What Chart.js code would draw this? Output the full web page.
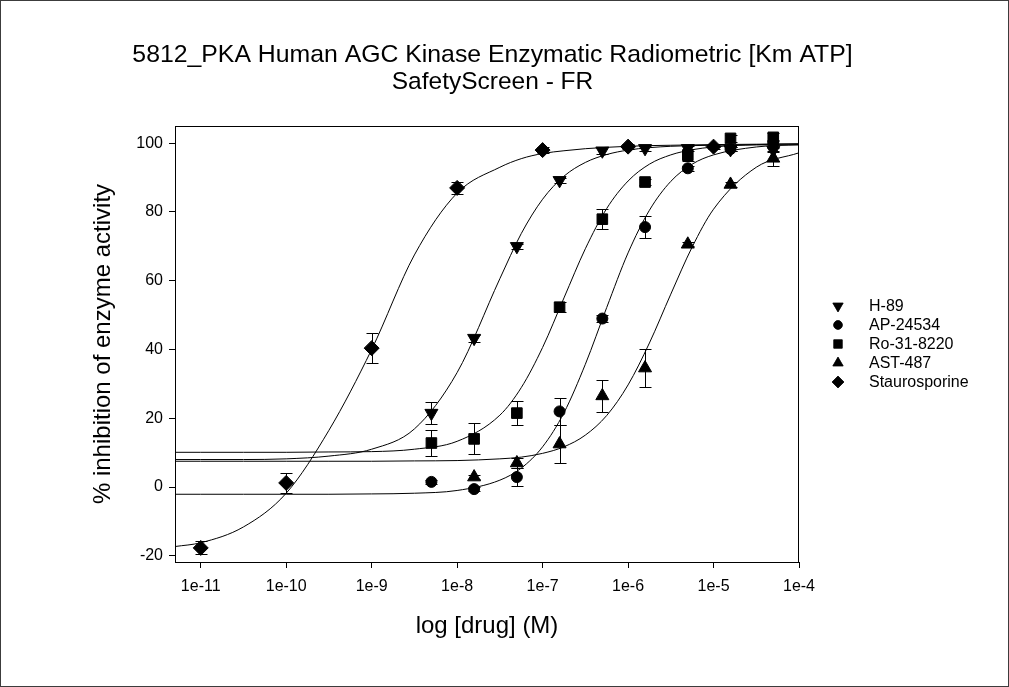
<!DOCTYPE html>
<html>
<head>
<meta charset="utf-8">
<script src="https://cdn.jsdelivr.net/npm/chart.js@4/dist/chart.umd.min.js"></script>
<style>
  html, body { margin: 0; padding: 0; background: #fff; }
  canvas { display: block; }
</style>
</head>
<body>
<canvas id="ic50-chart" width="1009" height="687"></canvas>
<script>
// concentrations (M) tested for the four compounds, and for staurosporine
const doseConc = [5e-9, 1.58e-8, 5e-8, 1.58e-7, 5e-7, 1.58e-6, 5e-6, 1.58e-5, 5e-5];
const stauroConc = [1e-11, 1e-10, 1e-9, 1e-8, 1e-7, 1e-6, 1e-5];

// % inhibition (mean) and error bar half-heights
const h89 = [21.5, 43.3, 70, 89.2, 97.8, 98.5, 98.5, 98.2, 98];
const h89Err = [3.2, 1, 0.8, 0.7, 1, 0.8, 0.8, 0.6, 0.6];
const ap24534 = [1.5, -0.6, 2.9, 22, 49, 75.6, 92.7, 98.3, 100];
const ap24534Err = [0.5, 0.5, 2.5, 3.9, 1, 3.1, 0.8, 0.6, 1];
const ro318220 = [12.8, 14, 21.5, 52.3, 77.9, 88.7, 96.5, 101.4, 101.7];
const ro318220Err = [3.7, 4.5, 3.4, 1.5, 3, 0.8, 1.8, 1, 1.2];
const ast487 = [null, 2.9, 7, 12.5, 26.5, 34.6, 70.6, 88, 95.6];
const ast487Err = [0, 0.6, 1.5, 5.4, 4.6, 5.5, 0.6, 0.8, 2.2];
const stauro = [-17.7, 1.2, 40.4, 87, 98, 99, 99];
const stauroErr = [1.9, 2.9, 4.4, 1.8, 0.8, 0.7, 0.7];

// fitted curves at these log10 concentrations
const curveLogX = [-11.3, -11, -10.5, -10, -9.5, -9, -8.5, -8, -7.5, -7.25, -7, -6.75, -6.5, -6.25, -6, -5.75, -5.5, -5.25, -5, -4.5, -4];
const h89Curve = [8.0, 8.0, 8.0, 8.2, 9.0, 11.0, 16.9, 33.3, 60.6, 73.7, 83.7, 90.4, 94.4, 96.7, 98.0, 98.7, 99.1, 99.3, 99.4, 99.5, 99.5];
const apCurve = [-2.1, -2.1, -2.1, -2.1, -2.1, -2.0, -1.8, -1.0, 2.0, 5.5, 11.7, 21.6, 35.7, 52.2, 68.1, 80.5, 88.9, 93.9, 96.6, 98.9, 99.6];
const roCurve = [10.1, 10.1, 10.1, 10.1, 10.2, 10.3, 11.0, 13.3, 20.9, 28.9, 40.6, 55.0, 69.3, 81.0, 89.0, 93.9, 96.6, 98.1, 98.9, 99.6, 99.8];
const astCurve = [7.5, 7.5, 7.5, 7.5, 7.5, 7.5, 7.6, 7.7, 8.2, 8.7, 9.8, 11.7, 15.1, 20.8, 29.7, 41.9, 56.1, 69.8, 80.8, 93.0, 97.2];
const stauroCurve = [-17.3, -16.2, -11.6, -1.8, 16.5, 40.0, 67.5, 85.5, 93.0, 95.5, 97.0, 97.8, 98.4, 98.8, 99.1, 99.3, 99.4, 99.5, 99.6, 99.7, 99.8];

// axis ticks
const xTickValues = [1e-11, 1e-10, 1e-9, 1e-8, 1e-7, 1e-6, 1e-5, 1e-4];
const xTickLabels = ['1e-11', '1e-10', '1e-9', '1e-8', '1e-7', '1e-6', '1e-5', '1e-4'];
const yTickValues = [-20, 0, 20, 40, 60, 80, 100];

const FONT = "Arial, 'Liberation Sans', sans-serif";

function toPoints(xs, ys) {
    return xs.map((x, i) => ({ x: x, y: ys[i] })).filter(p => p.y !== null);
}

function pointSet(label, xs, ys, errs, style, radius, rotation) {
    return {
        label: label,
        data: toPoints(xs, ys),
        errors: xs.map((x, i) => ({ x: x, y: ys[i], e: errs[i] })).filter(p => p.y !== null),
        pointStyle: style,
        pointRadius: radius,
        pointRotation: rotation || 0,
        pointBackgroundColor: '#000',
        pointBorderColor: '#000',
        pointBorderWidth: 1,
        showLine: false,
        legendRadius: radius * 0.8
    };
}

function curveSet(ys) {
    return {
        data: toPoints(curveLogX.map(v => Math.pow(10, v)), ys),
        showLine: true,
        pointRadius: 0,
        borderColor: '#000',
        borderWidth: 1,
        cubicInterpolationMode: 'monotone',
        fill: false,
        isCurve: true
    };
}

// vertical error bars with caps, drawn under the markers
const errorBars = {
    id: 'errorBars',
    beforeDatasetsDraw(chart) {
        const ctx = chart.ctx;
        const xs = chart.scales.x, ys = chart.scales.y;
        ctx.save();
        ctx.strokeStyle = '#000';
        ctx.lineWidth = 1;
        chart.data.datasets.forEach(ds => {
            if (!ds.errors) return;
            ds.errors.forEach(p => {
                if (!p.e) return;
                const px = Math.round(xs.getPixelForValue(p.x)) + 0.5;
                const top = Math.round(ys.getPixelForValue(p.y + p.e)) + 0.5;
                const bot = Math.round(ys.getPixelForValue(p.y - p.e)) + 0.5;
                ctx.beginPath();
                ctx.moveTo(px, top); ctx.lineTo(px, bot);
                ctx.moveTo(px - 6, top); ctx.lineTo(px + 6, top);
                ctx.moveTo(px - 6, bot); ctx.lineTo(px + 6, bot);
                ctx.stroke();
            });
        });
        ctx.restore();
    }
};

// plot box, outer frame and the symbol legend on the right
const decorations = {
    id: 'decorations',
    afterDraw(chart) {
        const ctx = chart.ctx;
        const a = chart.chartArea;
        ctx.save();
        ctx.strokeStyle = '#000';
        ctx.lineWidth = 1;
        ctx.strokeRect(Math.round(a.left) + 0.5, Math.round(a.top) + 0.5,
            Math.round(a.right - a.left) - 1, Math.round(a.bottom - a.top));
        ctx.strokeStyle = '#3c3c3c';
        ctx.strokeRect(0.5, 0.5, chart.width - 1, chart.height - 1);

        const items = chart.data.datasets.filter(ds => !ds.isCurve);
        ctx.font = '16px ' + FONT;
        ctx.textBaseline = 'middle';
        ctx.fillStyle = '#000';
        items.forEach((ds, i) => {
            const y = 306 + i * 19;
            Chart.helpers.drawPoint(ctx, {
                pointStyle: ds.pointStyle,
                rotation: ds.pointRotation,
                radius: ds.legendRadius,
                borderWidth: 1
            }, 838, y);
            ctx.fillStyle = '#000';
            ctx.fill();
            ctx.fillText(ds.label, 869, y + 1);
        });
        ctx.restore();
    }
};

const ctx = document.getElementById('ic50-chart').getContext('2d');

new Chart(ctx, {
    type: 'scatter',
    data: {
        datasets: [
            pointSet('H-89', doseConc, h89, h89Err, 'triangle', 7.5, 180),
            pointSet('AP-24534', doseConc, ap24534, ap24534Err, 'circle', 5.5),
            pointSet('Ro-31-8220', doseConc, ro318220, ro318220Err, 'rect', 7.5),
            pointSet('AST-487', doseConc, ast487, ast487Err, 'triangle', 7.5),
            pointSet('Staurosporine', stauroConc, stauro, stauroErr, 'rectRot', 7.5),
            curveSet(h89Curve),
            curveSet(apCurve),
            curveSet(roCurve),
            curveSet(astCurve),
            curveSet(stauroCurve)
        ]
    },
    options: {
        responsive: false,
        animation: false,
        devicePixelRatio: 1,
        layout: { padding: { left: 0, right: 24, top: 0, bottom: 0 } },
        plugins: {
            legend: { display: false },
            tooltip: { enabled: false },
            title: {
                display: true,
                text: '5812_PKA Human AGC Kinase Enzymatic Radiometric [Km ATP]',
                color: '#000',
                font: { family: FONT, size: 24.8, weight: 'normal', lineHeight: 1 },
                padding: { top: 42.6, bottom: 0 }
            },
            subtitle: {
                display: true,
                text: 'SafetyScreen - FR',
                color: '#000',
                font: { family: FONT, size: 24.5, weight: 'normal', lineHeight: 1 },
                padding: { top: 2.35, bottom: 31.75 }
            }
        },
        scales: {
            x: {
                type: 'logarithmic',
                min: 5e-12,
                max: 1e-4,
                afterBuildTicks: (scale) => {
                    scale.ticks = xTickValues.map(v => ({ value: v }));
                },
                afterFit: (scale) => { scale.height = 125; },
                grid: { drawOnChartArea: false, drawTicks: true, tickLength: 6, color: '#000' },
                border: { color: '#000' },
                ticks: {
                    color: '#000',
                    font: { family: FONT, size: 16 },
                    padding: 9,
                    maxRotation: 0,
                    autoSkip: false,
                    callback: (value, index) => xTickLabels[index]
                },
                title: {
                    display: true,
                    text: 'log [drug] (M)',
                    color: '#000',
                    font: { family: FONT, size: 24 },
                    padding: { top: 0, bottom: 46.6 }
                }
            },
            y: {
                min: -21.8,
                max: 105,
                afterBuildTicks: (scale) => {
                    scale.ticks = yTickValues.map(v => ({ value: v }));
                },
                afterFit: (scale) => { scale.width = 175; },
                grid: { drawOnChartArea: false, drawTicks: true, tickLength: 6, color: '#000' },
                border: { color: '#000' },
                ticks: {
                    color: '#000',
                    font: { family: FONT, size: 16 },
                    padding: 6
                },
                title: {
                    display: true,
                    text: '% inhibition of enzyme activity',
                    color: '#000',
                    font: { family: FONT, size: 24 },
                    padding: { top: 88.6, bottom: 0 }
                }
            },
            // empty right-hand axis that reserves the room the legend is drawn in
            legendSpace: {
                type: 'linear',
                position: 'right',
                afterFit: (scale) => { scale.width = 186; },
                grid: { display: false, drawTicks: false },
                border: { display: false },
                ticks: { display: false }
            }
        }
    },
    plugins: [errorBars, decorations]
});
</script>
</body>
</html>
